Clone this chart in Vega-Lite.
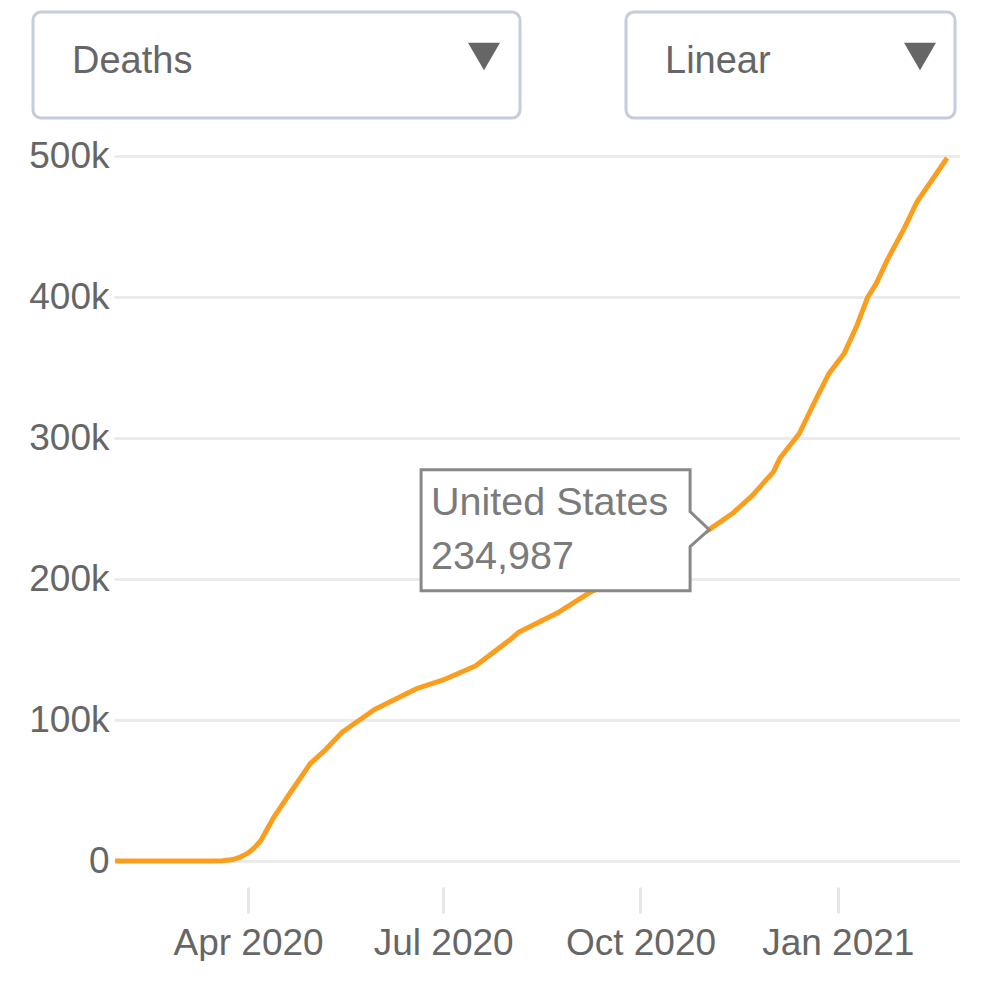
{
  "$schema": "https://vega.github.io/schema/vega-lite/v6.json",
  "padding": {"left": 28, "top": 10, "right": 0, "bottom": 0},
  "background": "white",
  "spacing": 17,
  "config": {
    "font": "Liberation Sans",
    "view": {"stroke": null}
  },
  "vconcat": [
    {
      "spacing": 102,
      "hconcat": [
        {
          "width": 487,
          "height": 106,
          "view": {"stroke": "#c6ccdb", "strokeWidth": 3, "cornerRadius": 8, "fill": "white"},
          "data": {"values": [{"control": "Deaths"}]},
          "layer": [
            {
              "mark": {"type": "text", "align": "left", "baseline": "alphabetic", "dx": -204.5, "dy": 8.3, "fontSize": 38, "color": "#666666"},
              "encoding": {"text": {"field": "control", "type": "nominal"}}
            },
            {
              "mark": {"type": "point", "shape": "triangle-down", "size": 1024, "filled": true, "color": "#666666", "opacity": 1, "strokeWidth": 0, "xOffset": 207.5, "yOffset": -8.5},
              "encoding": {}
            }
          ]
        },
        {
          "width": 329,
          "height": 106,
          "view": {"stroke": "#c6ccdb", "strokeWidth": 3, "cornerRadius": 8, "fill": "white"},
          "data": {"values": [{"control": "Linear"}]},
          "layer": [
            {
              "mark": {"type": "text", "align": "left", "baseline": "alphabetic", "dx": -125.5, "dy": 8.3, "fontSize": 38, "color": "#666666"},
              "encoding": {"text": {"field": "control", "type": "nominal"}}
            },
            {
              "mark": {"type": "point", "shape": "triangle-down", "size": 1024, "filled": true, "color": "#666666", "opacity": 1, "strokeWidth": 0, "xOffset": 129.5, "yOffset": -8.5},
              "encoding": {}
            }
          ]
        }
      ]
    },
    {
      "width": 927,
      "height": 705,
      "data": {
        "values": [
          {"country": "United States", "date": "2020-01-30", "deaths": 0},
          {"country": "United States", "date": "2020-02-29", "deaths": 1},
          {"country": "United States", "date": "2020-03-15", "deaths": 60},
          {"country": "United States", "date": "2020-03-20", "deaths": 200},
          {"country": "United States", "date": "2020-03-25", "deaths": 1000},
          {"country": "United States", "date": "2020-03-28", "deaths": 2500},
          {"country": "United States", "date": "2020-04-01", "deaths": 5600},
          {"country": "United States", "date": "2020-04-04", "deaths": 9500},
          {"country": "United States", "date": "2020-04-07", "deaths": 14500},
          {"country": "United States", "date": "2020-04-13", "deaths": 31000},
          {"country": "United States", "date": "2020-04-20", "deaths": 46800},
          {"country": "United States", "date": "2020-04-30", "deaths": 69000},
          {"country": "United States", "date": "2020-05-07", "deaths": 78700},
          {"country": "United States", "date": "2020-05-15", "deaths": 91500},
          {"country": "United States", "date": "2020-05-30", "deaths": 107500},
          {"country": "United States", "date": "2020-06-19", "deaths": 122500},
          {"country": "United States", "date": "2020-07-01", "deaths": 128400},
          {"country": "United States", "date": "2020-07-16", "deaths": 138300},
          {"country": "United States", "date": "2020-08-01", "deaths": 156700},
          {"country": "United States", "date": "2020-08-05", "deaths": 162000},
          {"country": "United States", "date": "2020-08-23", "deaths": 175700},
          {"country": "United States", "date": "2020-09-08", "deaths": 191000},
          {"country": "United States", "date": "2020-09-20", "deaths": 200000},
          {"country": "United States", "date": "2020-10-01", "deaths": 208000},
          {"country": "United States", "date": "2020-10-15", "deaths": 219000},
          {"country": "United States", "date": "2020-11-02", "deaths": 234987},
          {"country": "United States", "date": "2020-11-13", "deaths": 246600},
          {"country": "United States", "date": "2020-11-22", "deaths": 259000},
          {"country": "United States", "date": "2020-12-02", "deaths": 276000},
          {"country": "United States", "date": "2020-12-05", "deaths": 285600},
          {"country": "United States", "date": "2020-12-14", "deaths": 303000},
          {"country": "United States", "date": "2020-12-22", "deaths": 328000},
          {"country": "United States", "date": "2020-12-28", "deaths": 346000},
          {"country": "United States", "date": "2021-01-04", "deaths": 360000},
          {"country": "United States", "date": "2021-01-10", "deaths": 380000},
          {"country": "United States", "date": "2021-01-15", "deaths": 400000},
          {"country": "United States", "date": "2021-01-19", "deaths": 409700},
          {"country": "United States", "date": "2021-01-24", "deaths": 426000},
          {"country": "United States", "date": "2021-02-01", "deaths": 448700},
          {"country": "United States", "date": "2021-02-07", "deaths": 467600},
          {"country": "United States", "date": "2021-02-15", "deaths": 485300},
          {"country": "United States", "date": "2021-02-21", "deaths": 498600}
        ],
        "format": {"parse": {"date": "utc:'%Y-%m-%d'"}}
      },
      "encoding": {
        "x": {
          "field": "date",
          "type": "temporal",
          "scale": {
            "type": "utc",
            "domain": [
              {"year": 2020, "month": 1, "date": 29, "hours": 12, "utc": true},
              {"year": 2021, "month": 2, "date": 27, "utc": true}
            ],
            "range": [81, 927]
          },
          "axis": {
            "title": null,
            "values": [
              {"year": 2020, "month": 4, "date": 1, "utc": true},
              {"year": 2020, "month": 7, "date": 1, "utc": true},
              {"year": 2020, "month": 10, "date": 1, "utc": true},
              {"year": 2021, "month": 1, "date": 1, "utc": true}
            ],
            "format": "%b %Y",
            "grid": false,
            "domain": false,
            "ticks": true,
            "tickSize": 26,
            "tickWidth": 3,
            "tickColor": "#e6e6e6",
            "offset": 26,
            "labelPadding": 12,
            "labelFontSize": 37,
            "labelColor": "#666666",
            "labelFlush": false,
            "labelOverlap": false
          }
        },
        "y": {
          "field": "deaths",
          "type": "quantitative",
          "scale": {"domain": [0, 500000], "nice": false},
          "axis": {
            "title": null,
            "offset": -81,
            "minExtent": 0,
            "values": [0, 100000, 200000, 300000, 400000, 500000],
            "labelExpr": "datum.value == 0 ? '0' : (datum.value / 1000) + 'k'",
            "grid": true,
            "gridColor": "#ebebeb",
            "gridWidth": 3,
            "domain": false,
            "ticks": false,
            "labelPadding": 5,
            "labelFontSize": 37,
            "labelColor": "#666666"
          }
        }
      },
      "layer": [
        {
          "mark": {"type": "line", "color": "#fb9e1d", "strokeWidth": 5, "strokeJoin": "round"}
        },
        {
          "transform": [{"filter": {"field": "deaths", "equal": 234987}}],
          "mark": {
            "type": "point",
            "shape": "M0,0 L-0.19,-0.18 L-0.19,-0.6 L-2.88,-0.6 L-2.88,0.61 L-0.19,0.61 L-0.19,0.17 Z",
            "size": 40000,
            "filled": true,
            "color": "white",
            "stroke": "#888888",
            "strokeWidth": 3,
            "opacity": 1
          }
        },
        {
          "transform": [{"filter": {"field": "deaths", "equal": 234987}}],
          "mark": {"type": "text", "align": "left", "baseline": "alphabetic", "dx": -278, "dy": -14.7, "fontSize": 39.5, "color": "#7b7b7b"},
          "encoding": {"text": {"field": "country", "type": "nominal"}}
        },
        {
          "transform": [{"filter": {"field": "deaths", "equal": 234987}}],
          "mark": {"type": "text", "align": "left", "baseline": "alphabetic", "dx": -278, "dy": 39, "fontSize": 39.5, "color": "#7b7b7b"},
          "encoding": {"text": {"field": "deaths", "type": "quantitative", "format": ","}}
        }
      ]
    }
  ]
}
